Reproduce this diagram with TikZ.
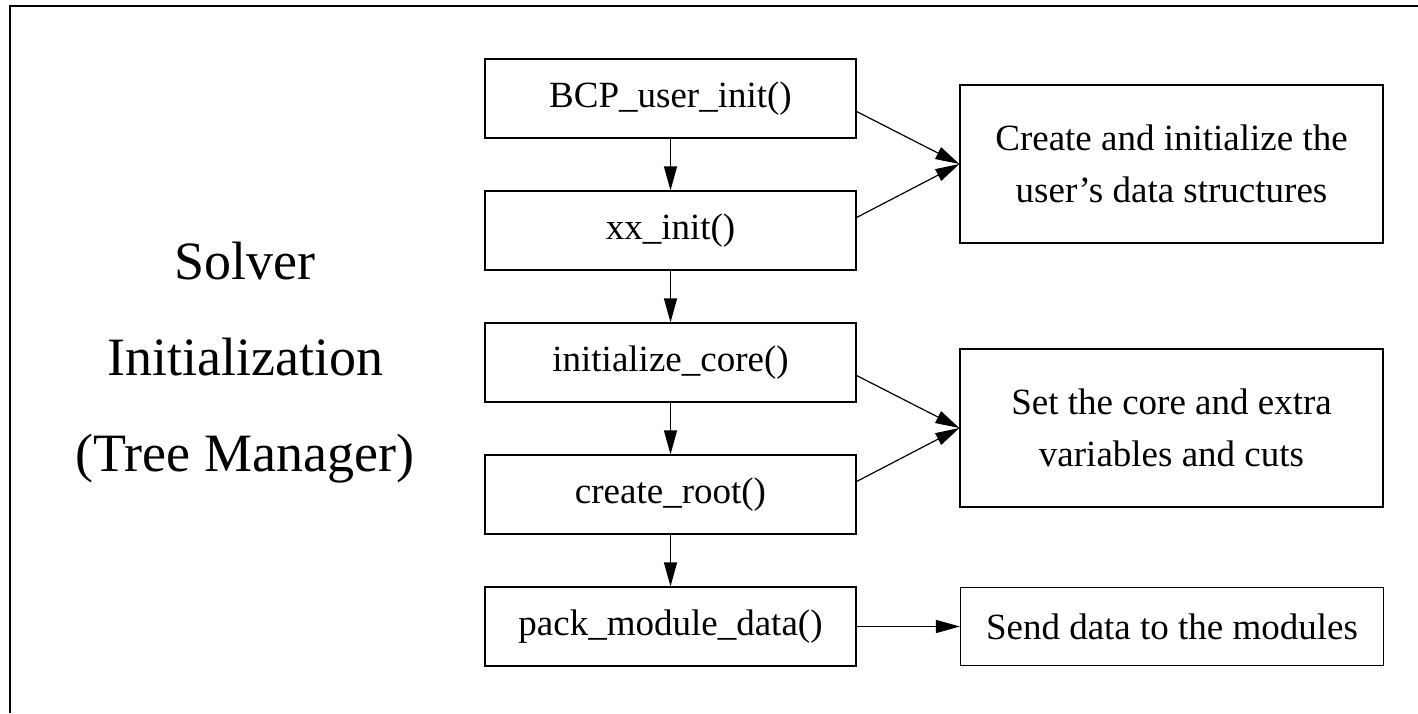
\documentclass[tikz,border=0pt]{standalone}
\usepackage{fontspec}
\setmainfont{Liberation Serif}
\usetikzlibrary{arrows.meta,positioning}

\begin{document}
\begin{tikzpicture}[x=0.5pt,y=-0.5pt,->,>={Triangle[length=12pt,width=6.5pt]},
  semithick,node distance=66pt,on grid,
  fn/.style={draw,-,minimum width=185.5pt,minimum height=39.5pt,inner sep=0pt,
    font=\fontsize{18.5}{26}\selectfont},
  note/.style={draw,-,minimum width=211.5pt,inner sep=0pt,align=center,
    font=\fontsize{18.5}{26}\selectfont},
  title/.style={align=center,font=\fontsize{27}{48}\selectfont}]
\useasboundingbox (0,0) rectangle (1418,713);
\draw[-,line width=1pt] (10,713) -- (10,6) -- (1418,6);
% left column of calls
\node[fn] (user)  at (670.5,98.5) {BCP\_user\_init()};
\node[fn] (xx)    [below=of user] {xx\_init()};
\node[fn] (core)  [below=of xx] {initialize\_core()};
\node[fn] (root)  [below=of core] {create\_root()};
\node[fn] (pack)  [below=of root] {pack\_module\_data()};
% what they do
\node[note,minimum height=79pt] (data) at (1171.5,164) {Create and initialize the\\user's data structures};
\node[note,minimum height=79pt] (vars) at (1171.5,428) {Set the core and extra\\variables and cuts};
\node[note,minimum height=39pt] (send) at (1172,626.5) {Send data to the modules};
\node[title] (solver) at (245,363) {Solver\\Initialization\\(Tree Manager)};
\draw (user) -- (xx);
\draw (xx) -- (core);
\draw (core) -- (root);
\draw (root) -- (pack);
\draw ([yshift=-6.5pt]user.east) -- (data.west);
\draw ([yshift=6.5pt]xx.east) -- (data.west);
\draw ([yshift=-6.5pt]core.east) -- (vars.west);
\draw ([yshift=6.5pt]root.east) -- (vars.west);
\draw (pack) -- (send);
\end{tikzpicture}
\end{document}
